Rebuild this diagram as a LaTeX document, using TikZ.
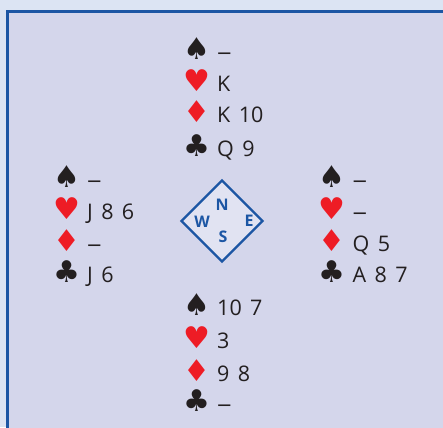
\documentclass[tikz,border=0pt]{standalone}
\usetikzlibrary{shapes.geometric}
\usepackage{fontspec}
\setmainfont{Open Sans}
\newfontfamily\suitfont{DejaVu Sans}
\newfontfamily\cardfont[WordSpace=1.5]{Open Sans}
\definecolor{outerbg}{HTML}{DCE4F3}
\definecolor{innerbg}{HTML}{D4D6EB}
\definecolor{framblue}{HTML}{1C56A4}
\definecolor{compfill}{HTML}{E1E3F2}
\definecolor{suitred}{HTML}{EE1C25}
\definecolor{suitblack}{HTML}{231F20}
\newcommand\void{\scalebox{1.35}[1]{–}}
% name, x of suit centre, baseline y, suit glyph, suit colour, cards
\newcommand\handrow[6]{%
  \node[suitsym,text=#5] (#1s) at (#2,#3) {#4};
  \node[cards] (#1t) at (#2+20.5,#3) {#6};
}
\begin{document}
\begin{tikzpicture}[x=1pt,y=-1pt,
  suitsym/.style={anchor=base,inner sep=0pt,font=\suitfont\fontsize{30}{30}\selectfont},
  cards/.style={anchor=base west,inner sep=0pt,text=suitblack,font=\cardfont\fontsize{21.5}{22}\selectfont},
  compass/.style={draw=framblue,line width=2.3pt,fill=compfill,diamond,shape aspect=1,minimum width=82pt,minimum height=82pt,inner sep=0pt},
  dirlabel/.style={text=framblue,font=\bfseries\fontsize{16}{16}\selectfont,inner sep=0pt}]
\useasboundingbox (0,0) rectangle (443,427);
\fill[outerbg] (0,0) rectangle (443,427);
\begin{scope}
\clip (0,0) rectangle (443,427);
\draw[framblue,line width=2.5pt,fill=innerbg] (7.25,11.5) rectangle (460,445);
\end{scope}
% North
\handrow{N1}{196.5}{60}{♠}{suitblack}{\void}
\handrow{N2}{196.5}{92}{♥}{suitred}{K}
\handrow{N3}{196.5}{123}{♦}{suitred}{K 10}
\handrow{N4}{196.5}{156.5}{♣}{suitblack}{Q 9}
% West
\handrow{W1}{66.5}{188}{♠}{suitblack}{\void}
\handrow{W2}{66.5}{219.5}{♥}{suitred}{J 8 6}
\handrow{W3}{66.5}{251.5}{♦}{suitred}{\void}
\handrow{W4}{66.5}{282}{♣}{suitblack}{J 6}
% East
\handrow{E1}{332}{188}{♠}{suitblack}{\void}
\handrow{E2}{332}{219.5}{♥}{suitred}{\void}
\handrow{E3}{332}{251.5}{♦}{suitred}{Q 5}
\handrow{E4}{332}{282}{♣}{suitblack}{A 8 7}
% South
\handrow{S1}{196.5}{315}{♠}{suitblack}{10 7}
\handrow{S2}{196.5}{348}{♥}{suitred}{3}
\handrow{S3}{196.5}{381}{♦}{suitred}{9 8}
\handrow{S4}{196.5}{411.5}{♣}{suitblack}{\void}
% compass
\node[compass] (comp) at (222,221) {};
\node[dirlabel] (cn) at (222,205) {N};
\node[dirlabel] (cw) at (202,222) {W};
\node[dirlabel] (ce) at (249,221) {E};
\node[dirlabel] (cs) at (223,237) {S};
\end{tikzpicture}
\end{document}
